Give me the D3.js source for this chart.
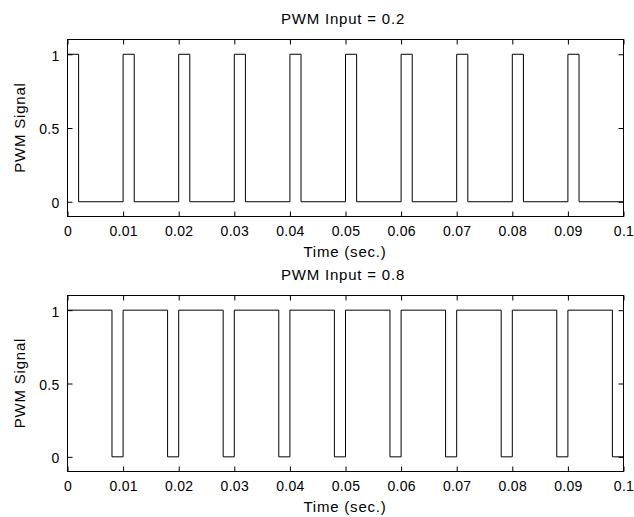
<!DOCTYPE html>
<html>
<head>
<meta charset="utf-8">
<script src="https://cdn.jsdelivr.net/npm/d3@7"></script>
<style>
  html, body { margin: 0; padding: 0; background: #fff; }
  svg { display: block; }
  text { font-family: "Liberation Sans", Arial, sans-serif; fill: #000; }
</style>
</head>
<body>
<svg id="chart" width="634" height="517"></svg>
<script>
// ---- data ----
const timeTicks = [0, 0.01, 0.02, 0.03, 0.04, 0.05, 0.06, 0.07, 0.08, 0.09, 0.1];
const timeTickLabels = ["0", "0.01", "0.02", "0.03", "0.04", "0.05", "0.06", "0.07", "0.08", "0.09", "0.1"];
const signalTicks = [0, 0.5, 1];
const signalTickLabels = ["0", "0.5", "1"];

const titles = ["PWM Input = 0.2", "PWM Input = 0.8"];

// step transitions (time, level) for PWM input 0.2
const time02 = [0, 0.002, 0.01, 0.012, 0.02, 0.022, 0.03, 0.032, 0.04, 0.042,
                0.05, 0.052, 0.06, 0.062, 0.07, 0.072, 0.08, 0.082, 0.09, 0.092, 0.1];
const level02 = [1, 0, 1, 0, 1, 0, 1, 0, 1, 0,
                 1, 0, 1, 0, 1, 0, 1, 0, 1, 0, 0];

// step transitions (time, level) for PWM input 0.8
const time08 = [0, 0.008, 0.01, 0.018, 0.02, 0.028, 0.03, 0.038, 0.04, 0.048,
                0.05, 0.058, 0.06, 0.068, 0.07, 0.078, 0.08, 0.088, 0.09, 0.098, 0.1];
const level08 = [1, 0, 1, 0, 1, 0, 1, 0, 1, 0,
                 1, 0, 1, 0, 1, 0, 1, 0, 1, 0, 0];

// ---- layout ----
const svg = d3.select("#chart");
const panels = [
  { title: titles[0], t: time02, v: level02, left: 67, right: 623, top: 39, bottom: 216 },
  { title: titles[1], t: time08, v: level08, left: 67, right: 623, top: 295, bottom: 471 }
];
const tickLen = 5;

panels.forEach(p => {
  const x = d3.scaleLinear().domain([0, 0.1]).range([p.left, p.right]);
  const y = d3.scaleLinear().domain([-0.1, 1.1]).range([p.bottom, p.top]);
  const g = svg.append("g").attr("transform", "translate(0.5,0.5)");

  // data line
  const line = d3.line()
    .x(i => x(p.t[i]))
    .y(i => y(p.v[i]))
    .curve(d3.curveStepAfter);
  g.append("path")
    .attr("d", line(d3.range(p.t.length)))
    .attr("fill", "none")
    .attr("stroke", "#000")
    .attr("stroke-width", 1);

  // axes (inside ticks, MATLAB box)
  const axB = d3.axisBottom(x).tickValues(timeTicks).tickFormat((d, i) => timeTickLabels[i])
    .tickSizeInner(-tickLen).tickSizeOuter(0).tickPadding(10);
  const axT = d3.axisTop(x).tickValues(timeTicks).tickFormat("")
    .tickSizeInner(-tickLen).tickSizeOuter(0);
  const axL = d3.axisLeft(y).tickValues(signalTicks).tickFormat((d, i) => signalTickLabels[i])
    .tickSizeInner(-tickLen).tickSizeOuter(0).tickPadding(12);
  const axR = d3.axisRight(y).tickValues(signalTicks).tickFormat("")
    .tickSizeInner(-tickLen).tickSizeOuter(0);

  const styleAxis = sel => {
    sel.select(".domain").remove();
    sel.selectAll("line").attr("stroke", "#000");
    sel.selectAll("text").attr("font-size", 14).attr("letter-spacing", "0.3px")
      .attr("font-family", "Liberation Sans, Arial, sans-serif").attr("fill", "#000");
  };

  g.append("g").attr("transform", `translate(0,${p.bottom})`).call(axB).call(styleAxis)
    .selectAll("text").attr("dy", null).attr("y", 19);
  g.append("g").attr("transform", `translate(0,${p.top})`).call(axT).call(styleAxis);
  g.append("g").attr("transform", `translate(${p.left},0)`).call(axL).call(styleAxis)
    .selectAll("text").attr("dy", "0.42em").attr("x", -8);
  g.append("g").attr("transform", `translate(${p.right},0)`).call(axR).call(styleAxis);

  // box
  g.append("rect")
    .attr("x", p.left).attr("y", p.top)
    .attr("width", p.right - p.left).attr("height", p.bottom - p.top)
    .attr("fill", "none").attr("stroke", "#000");

  const cx = (p.left + p.right) / 2;
  // title
  svg.append("text")
    .attr("x", cx - 2).attr("y", p.top - 15)
    .attr("text-anchor", "middle").attr("font-size", 15).attr("letter-spacing", "0.8px")
    .text(p.title);
  // x label
  svg.append("text")
    .attr("x", cx).attr("y", p.bottom + 41)
    .attr("text-anchor", "middle").attr("font-size", 15).attr("letter-spacing", "0.8px")
    .text("Time (sec.)");
  // y label
  svg.append("text")
    .attr("transform", `translate(25,${(p.top + p.bottom) / 2}) rotate(-90)`)
    .attr("text-anchor", "middle").attr("font-size", 15).attr("letter-spacing", "0.8px")
    .text("PWM Signal");
});
</script>
</body>
</html>
